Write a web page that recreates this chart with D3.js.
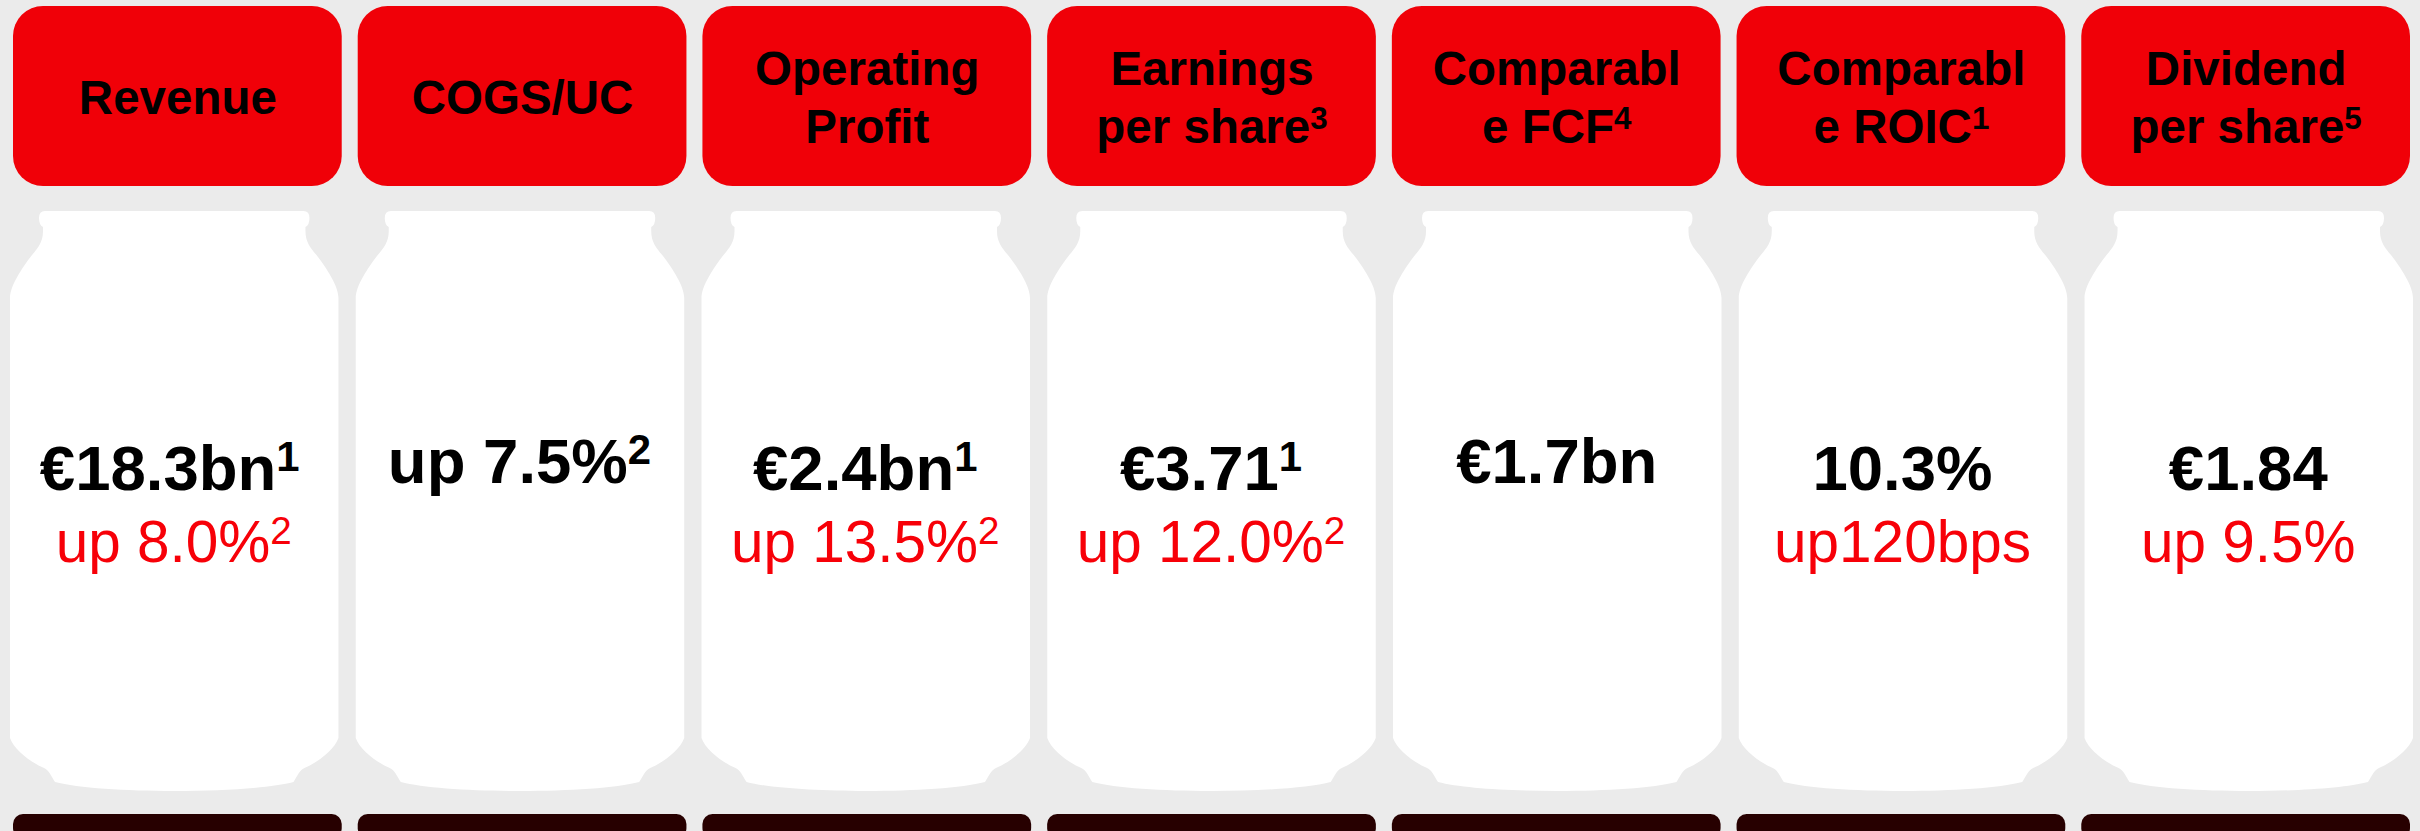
<!DOCTYPE html>
<html>
<head>
<meta charset="utf-8">
<script src="https://cdn.jsdelivr.net/npm/d3@7"></script>
<style>
  html, body { margin: 0; padding: 0; background: #ebebeb; }
  svg { display: block; }
  text { font-family: "Liberation Sans", Arial, sans-serif; text-anchor: middle; }
</style>
</head>
<body>
<div id="chart"></div>
<script>
// one entry per column
var headLine1 = ["Revenue", "COGS/UC", "Operating", "Earnings", "Comparabl", "Comparabl", "Dividend"];
var headLine2 = ["", "", "Profit", "per share", "e FCF", "e ROIC", "per share"];
var headNotes = ["", "", "", "3", "4", "1", "5"];
var mainValues = ["€18.3bn", "up 7.5%", "€2.4bn", "€3.71", "€1.7bn", "10.3%", "€1.84"];
var mainNotes = ["1", "2", "1", "1", "", "", ""];
var subValues = ["up 8.0%", "", "up 13.5%", "up 12.0%", "", "up120bps", "up 9.5%"];
var subNotes = ["2", "", "2", "2", "", "", ""];

var svgWidth = 2420;
var svgHeight = 831;

var columns = headLine1.map((d, i) => i);

// headers and bars
var xScale = d3.scaleBand()
    .domain(columns)
    .range([13, 2410])
    .paddingInner(16 / 345);

// the cans are spaced a bit wider than the headers
var canScale = d3.scaleBand()
    .domain(columns)
    .range([10, 2413])
    .paddingInner(0.05);

var headRed = "#f00008";
var textRed = "#f70008";

var svg = d3.select("#chart")
    .append("svg")
    .attr("width", svgWidth)
    .attr("height", svgHeight);

svg.append("rect")
    .attr("width", svgWidth)
    .attr("height", svgHeight)
    .attr("fill", "#ebebeb");

// can outline, drawn from its own left edge
function canPath(w) {
    var p = d3.path();
    p.moveTo(35, 211);
    p.lineTo(w - 35, 211);
    p.quadraticCurveTo(w - 29, 211, w - 29, 218);
    p.quadraticCurveTo(w - 29, 225, w - 33, 227);
    p.lineTo(w - 33, 231);
    p.bezierCurveTo(w - 33, 242, w - 28, 248, w - 22, 255);
    p.bezierCurveTo(w - 12, 268, w, 286, w, 298);
    p.lineTo(w, 738);
    p.bezierCurveTo(w - 4, 750, w - 22, 763, w - 34, 768);
    p.bezierCurveTo(w - 39, 770, w - 41, 776, w - 45, 782);
    p.bezierCurveTo(w - 90, 794, 90, 794, 45, 782);
    p.bezierCurveTo(41, 776, 39, 770, 34, 768);
    p.bezierCurveTo(22, 763, 4, 750, 0, 738);
    p.lineTo(0, 298);
    p.bezierCurveTo(0, 286, 12, 268, 22, 255);
    p.bezierCurveTo(28, 248, 33, 242, 33, 231);
    p.lineTo(33, 227);
    p.quadraticCurveTo(29, 225, 29, 218);
    p.quadraticCurveTo(29, 211, 35, 211);
    p.closePath();
    return p.toString();
}

// red headers
svg.selectAll("rect.head")
    .data(columns)
    .enter()
    .append("rect")
    .attr("class", "head")
    .attr("x", d => xScale(d))
    .attr("y", 6)
    .attr("width", xScale.bandwidth())
    .attr("height", 180)
    .attr("rx", 30)
    .attr("fill", headRed);

// white cans
svg.selectAll("path.can")
    .data(columns)
    .enter()
    .append("path")
    .attr("class", "can")
    .attr("d", canPath(canScale.bandwidth()))
    .attr("transform", d => `translate(${canScale(d)}, 0)`)
    .attr("fill", "#fff");

// dark bars, they run off the bottom of the page
svg.selectAll("rect.bar")
    .data(columns)
    .enter()
    .append("rect")
    .attr("class", "bar")
    .attr("x", d => xScale(d))
    .attr("y", 814)
    .attr("width", xScale.bandwidth())
    .attr("height", 24)
    .attr("rx", 10)
    .attr("fill", "#270000");

// adds text plus a raised footnote number to a text element
function addWithNote(sel, label, note, size) {
    sel.append("tspan").text(label);
    if (note) {
        sel.append("tspan")
            .attr("dy", -size * 0.3)
            .attr("font-size", size * 0.66)
            .text(note);
    }
}

var headSize = 47.5, mainSize = 63.5, subSize = 58.5;

columns.forEach(function(d) {
    var headX = xScale(d) + xScale.bandwidth() / 2 + 0.5;
    var canX = canScale(d) + canScale.bandwidth() / 2 - 0.5;
    var twoLines = headLine2[d] !== "";

    svg.append("text")
        .attr("x", headX)
        .attr("y", twoLines ? 85 : 114)
        .attr("font-size", headSize)
        .attr("font-weight", "bold")
        .text(headLine1[d]);

    if (twoLines) {
        svg.append("text")
            .attr("x", headX)
            .attr("y", 143)
            .attr("font-size", headSize)
            .attr("font-weight", "bold")
            .call(addWithNote, headLine2[d], headNotes[d], headSize);
    }

    // columns with no red line have the big figure set a little higher
    // first column's figure sits slightly left in the original
    svg.append("text")
        .attr("x", d === 0 ? canX - 4 : canX)
        .attr("y", subValues[d] ? 490 : 483)
        .attr("font-size", mainSize)
        .attr("font-weight", "bold")
        .call(addWithNote, mainValues[d], mainNotes[d], mainSize);

    if (subValues[d]) {
        svg.append("text")
            .attr("x", canX)
            .attr("y", 562)
            .attr("font-size", subSize)
            .attr("fill", textRed)
            .call(addWithNote, subValues[d], subNotes[d], subSize);
    }
});
</script>
</body>
</html>
